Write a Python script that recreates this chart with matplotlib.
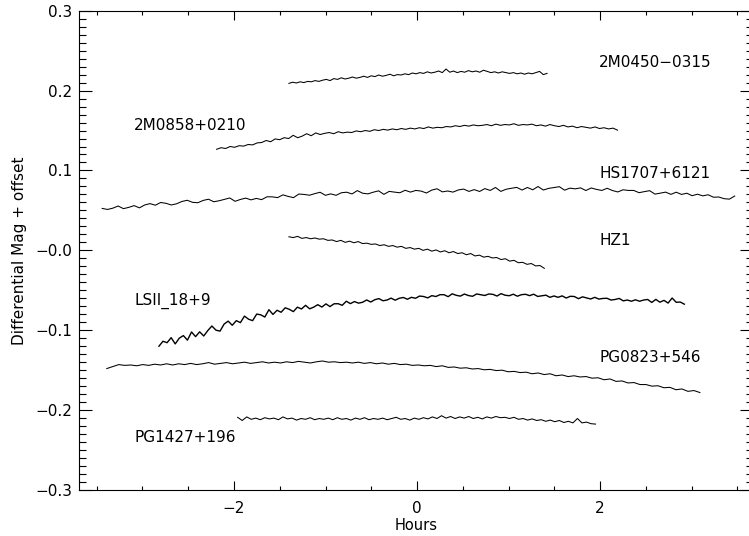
import numpy as np
import matplotlib
matplotlib.use('Agg')
import matplotlib.pyplot as plt
from matplotlib.ticker import MultipleLocator

# light curves: start / end time (hours) and magnitudes
t_2m0450 = (-1.40, 1.42)
m_2m0450 = [0.2090, 0.2105, 0.2095, 0.2110, 0.2100, 0.2115, 0.2110, 0.2125, 0.2115, 0.2130,
            0.2140, 0.2125, 0.2150, 0.2140, 0.2160, 0.2145, 0.2155, 0.2170, 0.2155, 0.2165,
            0.2180, 0.2165, 0.2185, 0.2175, 0.2195, 0.2180, 0.2190, 0.2205, 0.2185, 0.2200,
            0.2195, 0.2210, 0.2200, 0.2220, 0.2210, 0.2225, 0.2215, 0.2235, 0.2220, 0.2230,
            0.2245, 0.2225, 0.2270, 0.2230, 0.2245, 0.2225, 0.2240, 0.2230, 0.2250, 0.2235,
            0.2245, 0.2230, 0.2255, 0.2240, 0.2225, 0.2235, 0.2220, 0.2235, 0.2225, 0.2215,
            0.2225, 0.2210, 0.2220, 0.2205, 0.2220, 0.2210, 0.2225, 0.2240, 0.2200, 0.2215]

t_2m0858 = (-2.19, 2.19)
m_2m0858 = [0.1265, 0.1285, 0.1275, 0.1300, 0.1290, 0.1310, 0.1305, 0.1325, 0.1320, 0.1345,
            0.1350, 0.1375, 0.1360, 0.1395, 0.1385, 0.1410, 0.1400, 0.1440, 0.1410, 0.1430,
            0.1460, 0.1435, 0.1470, 0.1450, 0.1465, 0.1475, 0.1460, 0.1485, 0.1470, 0.1480,
            0.1475, 0.1495, 0.1485, 0.1500, 0.1490, 0.1510, 0.1500, 0.1515, 0.1505, 0.1520,
            0.1510, 0.1525, 0.1515, 0.1530, 0.1520, 0.1535, 0.1525, 0.1545, 0.1530, 0.1540,
            0.1535, 0.1550, 0.1545, 0.1560, 0.1550, 0.1565, 0.1555, 0.1570, 0.1560, 0.1565,
            0.1575, 0.1560, 0.1580, 0.1565, 0.1575, 0.1570, 0.1585, 0.1565, 0.1575, 0.1570,
            0.1580, 0.1560, 0.1570, 0.1555, 0.1575, 0.1560, 0.1550, 0.1565, 0.1545, 0.1555,
            0.1535, 0.1550, 0.1540, 0.1530, 0.1545, 0.1525, 0.1535, 0.1520, 0.1530, 0.1505]

t_hs1707 = (-3.44, 3.47)
m_hs1707 = [0.0525, 0.0512, 0.0528, 0.0555, 0.0522, 0.0538, 0.0560, 0.0532, 0.0568, 0.0585,
            0.0565, 0.0599, 0.0589, 0.0568, 0.0583, 0.0612, 0.0627, 0.0601, 0.0596, 0.0625,
            0.0640, 0.0608, 0.0621, 0.0638, 0.0656, 0.0614, 0.0637, 0.0654, 0.0632, 0.0650,
            0.0635, 0.0670, 0.0670, 0.0660, 0.0695, 0.0675, 0.0660, 0.0705, 0.0700, 0.0690,
            0.0710, 0.0727, 0.0689, 0.0707, 0.0689, 0.0721, 0.0728, 0.0706, 0.0748, 0.0715,
            0.0707, 0.0728, 0.0745, 0.0701, 0.0738, 0.0729, 0.0721, 0.0752, 0.0729, 0.0750,
            0.0742, 0.0718, 0.0754, 0.0771, 0.0732, 0.0743, 0.0729, 0.0756, 0.0767, 0.0738,
            0.0760, 0.0737, 0.0773, 0.0750, 0.0787, 0.0738, 0.0765, 0.0777, 0.0788, 0.0755,
            0.0787, 0.0758, 0.0799, 0.0755, 0.0776, 0.0786, 0.0797, 0.0753, 0.0779, 0.0770,
            0.0782, 0.0749, 0.0781, 0.0763, 0.0750, 0.0777, 0.0749, 0.0731, 0.0758, 0.0750,
            0.0750, 0.0722, 0.0735, 0.0747, 0.0704, 0.0716, 0.0729, 0.0701, 0.0728, 0.0700,
            0.0715, 0.0684, 0.0703, 0.0682, 0.0696, 0.0665, 0.0668, 0.0647, 0.0641, 0.0680]

t_hz1 = (-1.40, 1.39)
m_hz1 = [0.0170, 0.0160, 0.0175, 0.0150, 0.0160, 0.0145, 0.0155, 0.0140, 0.0145, 0.0125,
         0.0130, 0.0110, 0.0125, 0.0100, 0.0115, 0.0095, 0.0110, 0.0085, 0.0090, 0.0075,
         0.0080, 0.0060, 0.0070, 0.0050, 0.0060, 0.0040, 0.0050, 0.0025, 0.0035, 0.0015,
         0.0025, 0.0000, 0.0015, -0.0010, 0.0005, -0.0020, -0.0005, -0.0030, -0.0015, -0.0040,
         -0.0030, -0.0055, -0.0040, -0.0070, -0.0060, -0.0085, -0.0075, -0.0095, -0.0090, -0.0115,
         -0.0105, -0.0135, -0.0125, -0.0155, -0.0150, -0.0175, -0.0165, -0.0195, -0.0190, -0.0225]

t_lsii = (-2.82, 2.92)
m_lsii = [-0.1200, -0.1138, -0.1156, -0.1093, -0.1171, -0.1099, -0.1067, -0.1124, -0.1022, -0.1080,
          -0.1020, -0.1072, -0.1004, -0.0947, -0.0999, -0.1011, -0.0923, -0.0886, -0.0938, -0.0880,
          -0.0905, -0.0823, -0.0862, -0.0880, -0.0798, -0.0807, -0.0835, -0.0743, -0.0802, -0.0750,
          -0.0775, -0.0719, -0.0738, -0.0767, -0.0711, -0.0734, -0.0688, -0.0732, -0.0711, -0.0680,
          -0.0710, -0.0670, -0.0704, -0.0669, -0.0668, -0.0688, -0.0637, -0.0667, -0.0641, -0.0661,
          -0.0650, -0.0621, -0.0647, -0.0618, -0.0604, -0.0631, -0.0622, -0.0598, -0.0624, -0.0600,
          -0.0590, -0.0612, -0.0588, -0.0600, -0.0572, -0.0578, -0.0595, -0.0567, -0.0578, -0.0555,
          -0.0555, -0.0580, -0.0544, -0.0563, -0.0573, -0.0547, -0.0566, -0.0575, -0.0546, -0.0555,
          -0.0565, -0.0546, -0.0551, -0.0572, -0.0542, -0.0562, -0.0568, -0.0549, -0.0574, -0.0555,
          -0.0550, -0.0567, -0.0549, -0.0577, -0.0569, -0.0561, -0.0588, -0.0571, -0.0588, -0.0570,
          -0.0597, -0.0575, -0.0578, -0.0605, -0.0582, -0.0596, -0.0609, -0.0588, -0.0610, -0.0602,
          -0.0600, -0.0622, -0.0615, -0.0602, -0.0632, -0.0622, -0.0637, -0.0619, -0.0637, -0.0622,
          -0.0615, -0.0652, -0.0614, -0.0649, -0.0626, -0.0660, -0.0597, -0.0650, -0.0647, -0.0674]

t_pg0823 = (-3.39, 3.09)
m_pg0823 = [-0.1480, -0.1455, -0.1430, -0.1440, -0.1435, -0.1445, -0.1430, -0.1440, -0.1425, -0.1435,
            -0.1420, -0.1435, -0.1420, -0.1430, -0.1415, -0.1430, -0.1420, -0.1405, -0.1425, -0.1415,
            -0.1405, -0.1420, -0.1410, -0.1400, -0.1415, -0.1405, -0.1395, -0.1410, -0.1400, -0.1410,
            -0.1395, -0.1405, -0.1390, -0.1400, -0.1410, -0.1395, -0.1385, -0.1400, -0.1395, -0.1405,
            -0.1400, -0.1410, -0.1400, -0.1415, -0.1405, -0.1420, -0.1410, -0.1425, -0.1415, -0.1430,
            -0.1425, -0.1440, -0.1435, -0.1445, -0.1440, -0.1455, -0.1445, -0.1465, -0.1460, -0.1475,
            -0.1470, -0.1485, -0.1480, -0.1495, -0.1490, -0.1505, -0.1500, -0.1520, -0.1515, -0.1530,
            -0.1525, -0.1545, -0.1535, -0.1555, -0.1545, -0.1570, -0.1560, -0.1580, -0.1570, -0.1585,
            -0.1580, -0.1600, -0.1595, -0.1620, -0.1610, -0.1640, -0.1635, -0.1660, -0.1655, -0.1680,
            -0.1680, -0.1700, -0.1695, -0.1720, -0.1715, -0.1745, -0.1735, -0.1765, -0.1755, -0.1780]

t_pg1427 = (-1.96, 1.95)
m_pg1427 = [-0.2090, -0.2130, -0.2085, -0.2115, -0.2100, -0.2120, -0.2095, -0.2110, -0.2100, -0.2120,
            -0.2085, -0.2110, -0.2100, -0.2125, -0.2105, -0.2115, -0.2095, -0.2120, -0.2105, -0.2115,
            -0.2100, -0.2120, -0.2095, -0.2115, -0.2105, -0.2125, -0.2100, -0.2115, -0.2095, -0.2120,
            -0.2105, -0.2115, -0.2100, -0.2120, -0.2105, -0.2090, -0.2115, -0.2105, -0.2125, -0.2100,
            -0.2115, -0.2095, -0.2110, -0.2085, -0.2105, -0.2070, -0.2100, -0.2080, -0.2105, -0.2085,
            -0.2100, -0.2080, -0.2105, -0.2090, -0.2110, -0.2085, -0.2100, -0.2080, -0.2095, -0.2090,
            -0.2105, -0.2090, -0.2115, -0.2105, -0.2125, -0.2110, -0.2130, -0.2120, -0.2140, -0.2125,
            -0.2145, -0.2130, -0.2155, -0.2140, -0.2160, -0.2105, -0.2160, -0.2150, -0.2170, -0.2175]

names = ['2M0450\u22120315', '2M0858+0210', 'HS1707+6121', 'HZ1',
         'LSII_18+9', 'PG0823+546', 'PG1427+196']
label_x = [1.99, -3.09, 1.99, 1.99, -3.09, 1.99, -3.09]
label_y = [0.235, 0.156, 0.096, 0.0125, -0.0635, -0.134, -0.2345]

y_ticks = [0.3, 0.2, 0.1, 0.0, -0.1, -0.2, -0.3]
y_ticklabels = ['0.3', '0.2', '0.1', '\u22120.0', '\u22120.1', '\u22120.2', '\u22120.3']
x_ticks = [-2, 0, 2]
x_ticklabels = ['\u22122', '0', '2']

plt.rcParams['font.family'] = ['DejaVu Sans']
fig = plt.figure(figsize=(7.49, 5.36), dpi=100)
ax = fig.add_axes([79.3 / 749, 46 / 536, (753 - 79.3) / 749, 479.3 / 536])

curves = [(t_2m0450, m_2m0450), (t_2m0858, m_2m0858), (t_hs1707, m_hs1707),
          (t_hz1, m_hz1), (t_lsii, m_lsii), (t_pg0823, m_pg0823), (t_pg1427, m_pg1427)]
for (t0, t1), mag in curves:
    hrs = np.linspace(t0, t1, len(mag))
    lw = 1.0 if mag is m_lsii else 0.75
    ax.plot(hrs, mag, color='black', lw=lw)

for name, lx, ly in zip(names, label_x, label_y):
    ax.text(lx, ly, name, fontsize=11, va='center', ha='left', color='black')

ax.set_xlim(-3.69, 3.67)
ax.set_ylim(-0.3, 0.3)
ax.set_xticks(x_ticks)
ax.set_xticklabels(x_ticklabels)
ax.set_yticks(y_ticks)
ax.set_yticklabels(y_ticklabels)
ax.xaxis.set_minor_locator(MultipleLocator(0.5))
ax.yaxis.set_minor_locator(MultipleLocator(0.01))
ax.tick_params(axis='both', which='both', direction='in', top=True, right=True,
               labelsize=11, width=0.8)
ax.tick_params(axis='x', which='major', length=6.5, pad=8)
ax.tick_params(axis='x', which='minor', length=3)
ax.tick_params(axis='y', which='major', length=9.4, pad=5)
ax.tick_params(axis='y', which='minor', length=5)
for sp in ax.spines.values():
    sp.set_linewidth(0.8)

ax.set_xlabel('Hours', fontsize=10.5, labelpad=1)
ax.set_ylabel('Differential Mag + offset', fontsize=11, labelpad=6)

fig.savefig('out.png', dpi=100)
